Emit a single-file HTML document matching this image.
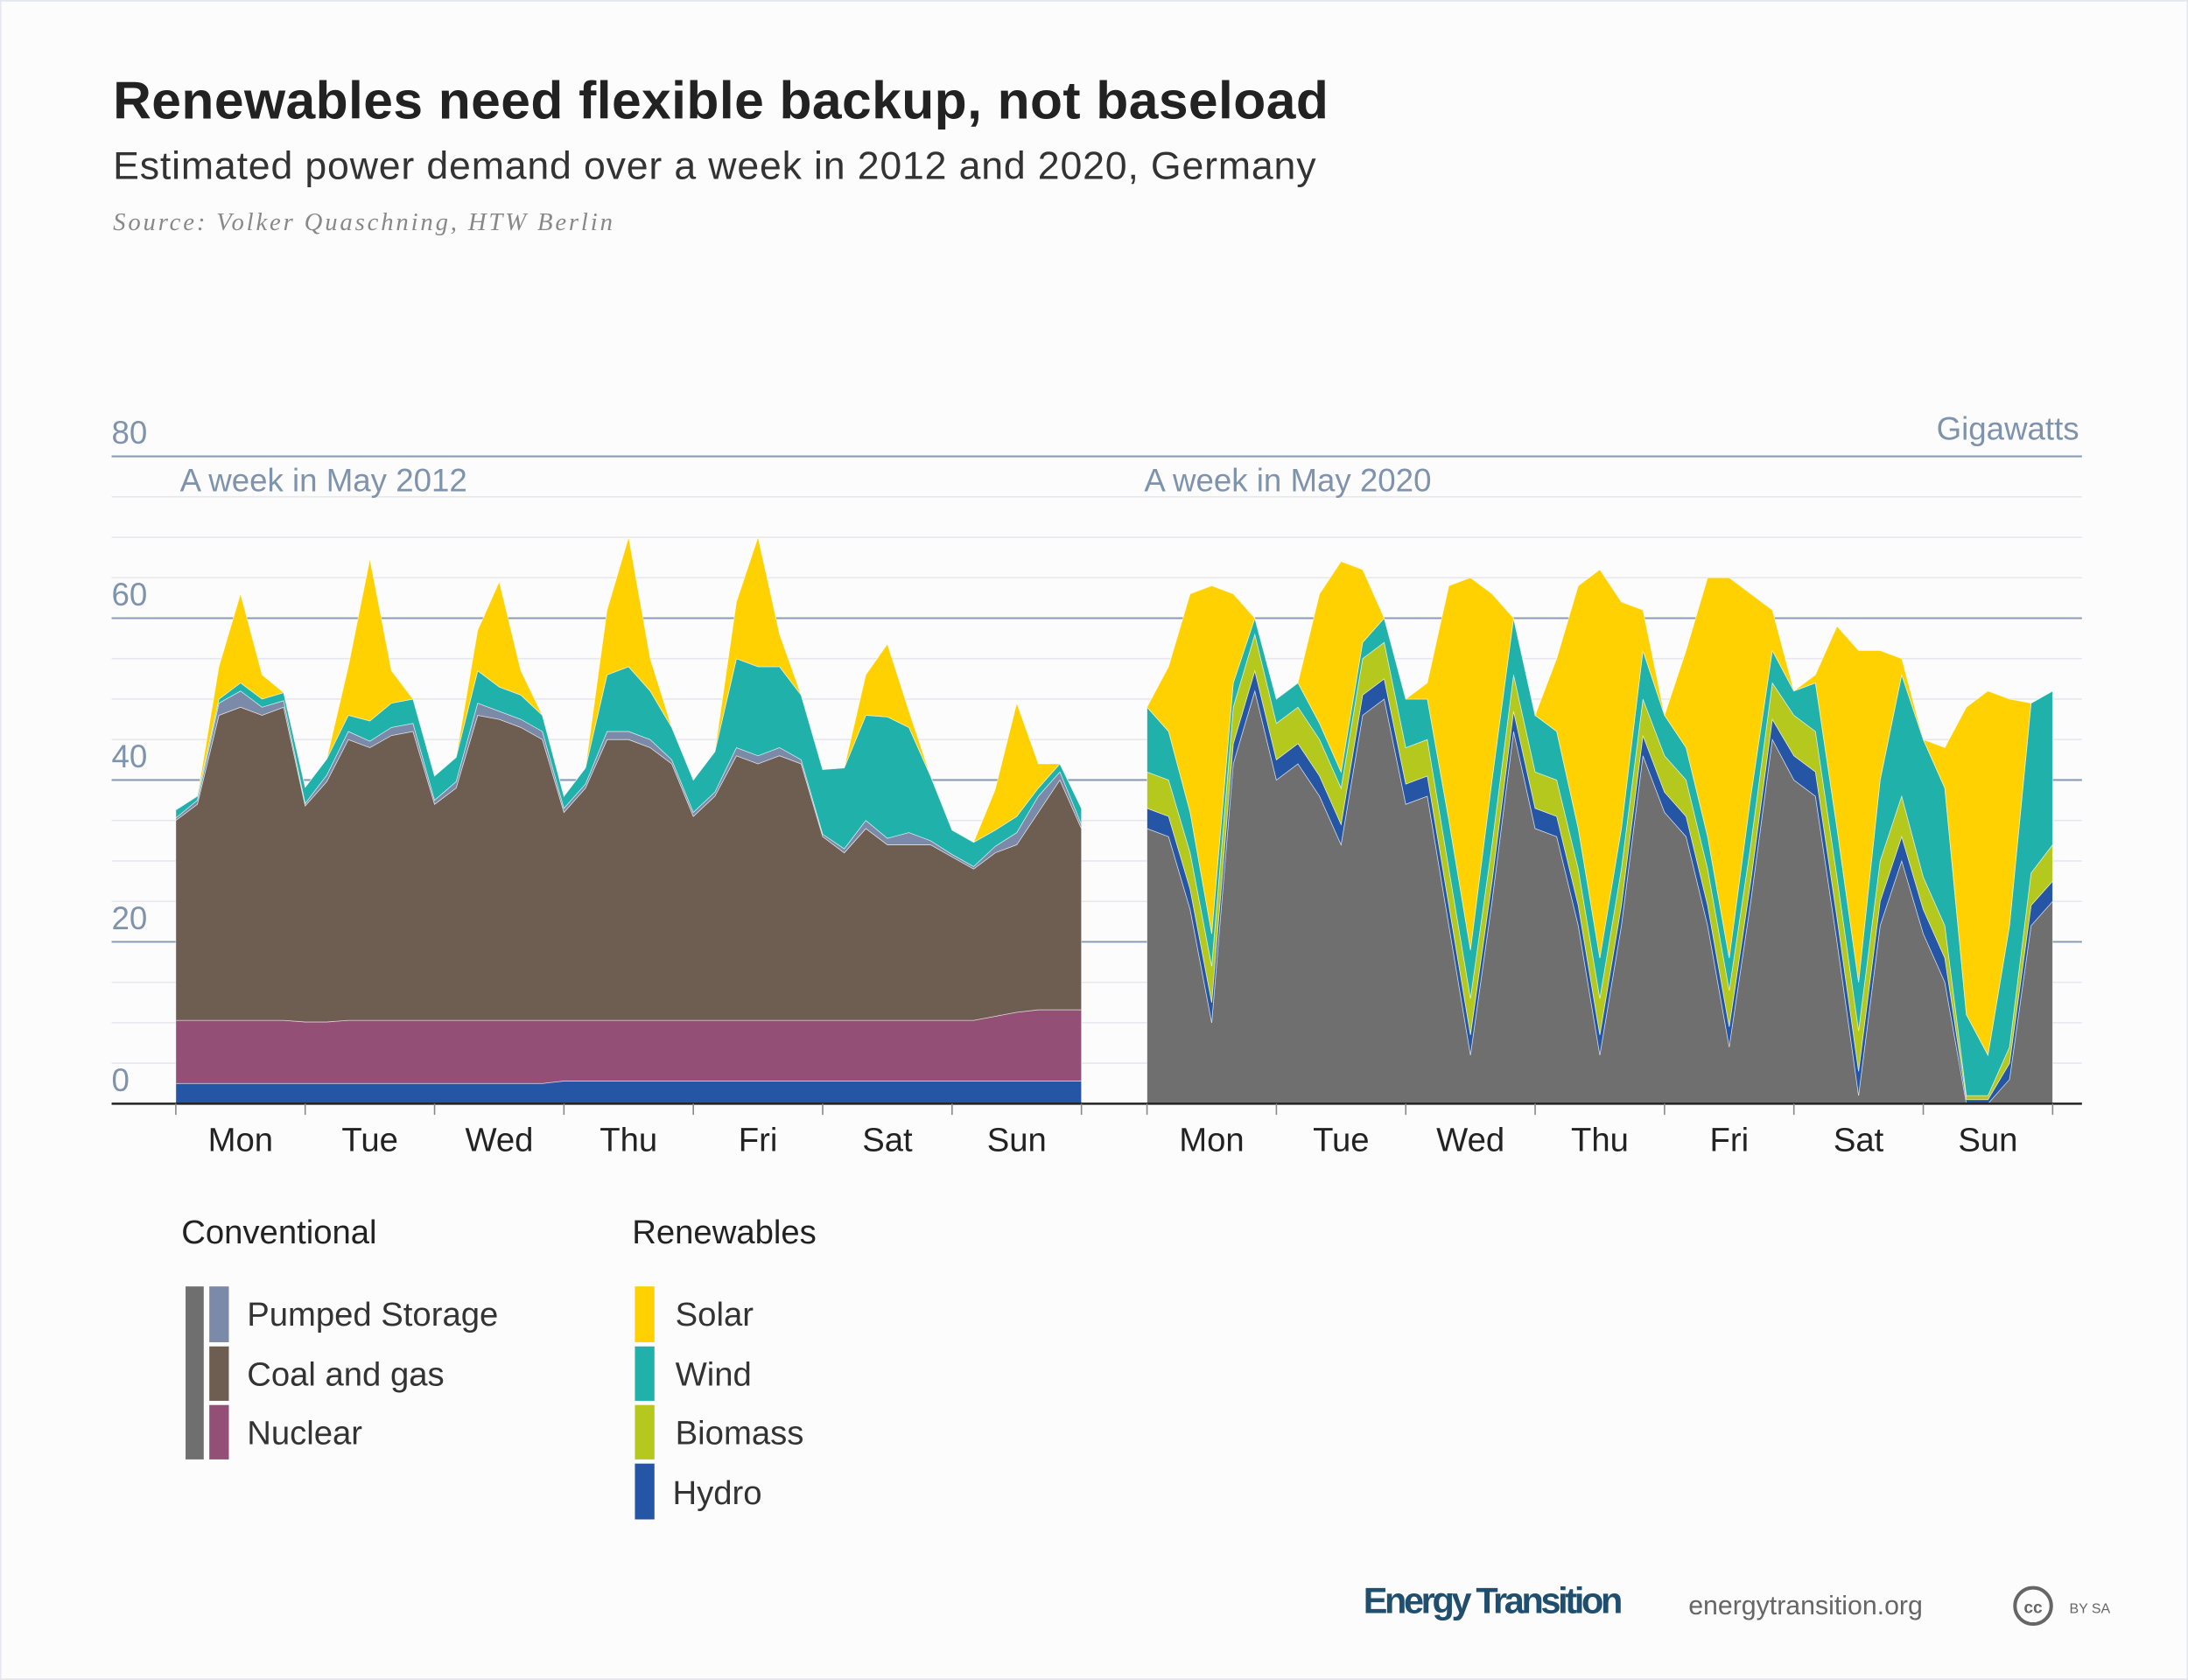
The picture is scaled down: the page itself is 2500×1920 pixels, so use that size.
<!DOCTYPE html>
<html><head><meta charset="utf-8"><style>
html,body{margin:0;padding:0;background:#fcfcfc;}
svg{display:block;}
text{font-family:"Liberation Sans","DejaVu Sans",sans-serif;}
</style></head><body>
<svg id="chart" width="2500" height="1920" viewBox="0 0 1568 1204" xmlns="http://www.w3.org/2000/svg">
<rect x="0" y="0" width="1568" height="1204" fill="#fcfcfc" stroke="#e4e8ee" stroke-width="2"/>
<text x="81" y="85" font-size="38" font-weight="bold" fill="#222" textLength="871">Renewables need flexible backup, not baseload</text>
<text x="81" y="128" font-size="28" fill="#333" textLength="862">Estimated power demand over a week in 2012 and 2020, Germany</text>
<text x="81" y="165" font-size="18" font-style="italic" fill="#888" textLength="358" style="font-family:'Liberation Serif',serif">Source: Volker Quaschning, HTW Berlin</text>
<g id="grid"></g>
<g id="areas"></g>
<g id="axes"></g>
<text x="129" y="352" font-size="23" fill="#7f93ad">A week in May 2012</text>
<text x="820" y="352" font-size="23" fill="#7f93ad">A week in May 2020</text>
<text x="1490" y="315" font-size="23" fill="#7f93ad" text-anchor="end">Gigawatts</text>

<g>
<text x="130" y="891" font-size="24" fill="#222">Conventional</text>
<text x="453" y="891" font-size="24" fill="#222">Renewables</text>
<rect x="133" y="922" width="13" height="124" fill="#6f6f6f"/>
<rect x="150" y="922" width="14" height="40" fill="#7a8aa8"/>
<rect x="150" y="965" width="14" height="39" fill="#6e5e52"/>
<rect x="150" y="1007" width="14" height="39" fill="#944f77"/>
<text x="177" y="950" font-size="24" fill="#333">Pumped Storage</text>
<text x="177" y="993" font-size="24" fill="#333">Coal and gas</text>
<text x="177" y="1035" font-size="24" fill="#333">Nuclear</text>
<rect x="455" y="922" width="14" height="40" fill="#ffd100"/>
<rect x="455" y="965" width="14" height="39" fill="#20b2aa"/>
<rect x="455" y="1007" width="14" height="39" fill="#b4c81e"/>
<rect x="455" y="1049" width="14" height="40" fill="#2556a5"/>
<text x="484" y="950" font-size="24" fill="#333">Solar</text>
<text x="484" y="993" font-size="24" fill="#333">Wind</text>
<text x="484" y="1035" font-size="24" fill="#333">Biomass</text>
<text x="482" y="1078" font-size="24" fill="#333">Hydro</text>
</g>
<text x="977" y="1156" font-size="26" font-weight="bold" fill="#1f4e6e" textLength="186">Energy Transition</text>
<text x="1210" y="1157" font-size="19" fill="#666">energytransition.org</text>
<circle cx="1457" cy="1151" r="13" fill="none" stroke="#666" stroke-width="2.5"/>
<text x="1457" y="1156" font-size="12" font-weight="bold" fill="#666" text-anchor="middle">cc</text>
<text x="1483" y="1156" font-size="10" fill="#666">BY SA</text>
</svg>
<script>
// 4-hourly points, Mon 0h .. next Mon 0h (43 points), GW
const days = ["Mon","Tue","Wed","Thu","Fri","Sat","Sun"];
const yTicks = [0,20,40,60,80];
// 2012
const hydro12 = [2.5,2.5,2.5,2.5,2.5,2.5, 2.5,2.5,2.5,2.5,2.5,2.5, 2.5,2.5,2.5,2.5,2.5,2.5, 2.8,2.8,2.8,2.8,2.8,2.8, 2.8,2.8,2.8,2.8,2.8,2.8, 2.8,2.8,2.8,2.8,2.8,2.8, 2.8,2.8,2.8,2.8,2.8,2.8, 2.8];
const nuclear12 = [7.8,7.8,7.8,7.8,7.8,7.8, 7.6,7.6,7.8,7.8,7.8,7.8, 7.8,7.8,7.8,7.8,7.8,7.8, 7.5,7.5,7.5,7.5,7.5,7.5, 7.5,7.5,7.5,7.5,7.5,7.5, 7.5,7.5,7.5,7.5,7.5,7.5, 7.5,7.5,8,8.5,8.8,8.8, 8.8];
const coal12 = [24.7,26.7,37.7,38.7,37.7,38.7, 26.7,29.7,34.7,33.7,35.2,35.7, 26.7,28.7,37.7,37.2,36.2,34.7, 25.7,28.7,34.7,34.7,33.7,31.7, 25.2,27.7,32.7,31.7,32.7,31.7, 22.7,20.7,23.7,21.7,21.7,21.7, 20.2,18.7,20.2,20.7,24.4,28.4, 22.4];
const pumped12 = [0.3,0.5,1.5,2,1,0.8, 0.3,0.8,1,0.8,1,1, 0.5,0.8,1.5,1,1,1, 0.5,0.5,1,1,1,0.5, 0.5,0.5,1,1,1,0.5, 0.3,0.5,1,0.8,1.5,0.5, 0.3,0.3,0.8,1.5,2,1, 0.5];
const wind12 = [1,0.5,0.5,1,1,1, 2,2,2,2.5,3,3, 3,3,4,3,3,2, 1.5,2,7,8,6,4, 4,5,11,11,10,8, 8,10,13,15,13,8, 3,3,2,2,1,1, 2];
const solar12 = [0,0,4,11,3,0, 0,0,6,20,4,0, 0,0,5,13,3,0, 0,0,8,16,4,0, 0,0,7,16,4,0, 0,0,5,9,2,0, 0,0,5,14,3,0, 0];
// 2020
const conv20 = [34,33,24,10,42,51, 40,42,38,32,48,50, 37,38,22,6,25,46, 34,33,22,6,22,43, 36,33,22,7,25,45, 40,38,20,1,22,30, 21,15,0,0,3,22, 25];
const hydro20 = [2.5,2.5,2.5,2.5,2.5,2.5, 2.5,2.5,2.5,2.5,2.5,2.5, 2.5,2.5,2.5,2.5,2.5,2.5, 2.5,2.5,2.5,2.5,2.5,2.5, 2.5,2.5,2.5,2.5,2.5,2.5, 3,3,3,3,3,3, 3,3,0.5,0.5,2,2.5, 2.5];
const biomass20 = [4.5,4.5,4.5,4.5,4.5,4.5, 4.5,4.5,4.5,4.5,4.5,4.5, 4.5,4.5,4.5,4.5,4.5,4.5, 4.5,4.5,4.5,4.5,4.5,4.5, 4.5,4.5,4.5,4.5,4.5,4.5, 5,5,5,5,5,5, 4,4,0.5,0.5,2,4, 4.5];
const wind20 = [8,6,5,4,3,2, 3,3,2,2,2,3, 6,5,6,6,8,7, 7,6,5,5,5,6, 5,4,4,4,6,4, 3,6,6,6,10,15, 17,17,10,5,15,21, 19];
const solar20 = [0,8,27,43,11,0, 0,0,16,26,9,0, 0,2,29,46,23,0, 0,9,30,48,28,5, 0,12,32,47,25,5, 0,1,25,41,16,2, 0,5,38,45,28,0, 0];

const NS="http://www.w3.org/2000/svg";
const svg=document.getElementById('chart');
const gGrid=document.getElementById('grid'), gAreas=document.getElementById('areas'), gAxes=document.getElementById('axes');
const Y0=791, PX_PER_GW=5.8;
function yScale(v){return Y0 - v*PX_PER_GW;}
const N=43, PW=649;
function xLeft(i){return 126 + i*PW/(N-1);}
function xRight(i){return 822 + i*PW/(N-1);}
function mk(tag,attrs,parent){const e=document.createElementNS(NS,tag);for(const k in attrs)e.setAttribute(k,attrs[k]);parent.appendChild(e);return e;}

for(let v=0; v<=80; v+=5){
  if(v===0) continue;
  const major = v%20===0;
  const ln=mk('line',{x1:80,x2:1492,y1:yScale(v),y2:yScale(v),stroke:major?'#8a9bb5':'#e6e8ee','stroke-width':major?1.3:1},gGrid);
  
  
}
yTicks.forEach(v=>{
  const t=mk('text',{x:80,y:yScale(v)-9,'font-size':23,fill:'#7f93ad'},gGrid);
  t.textContent=v;
  
  
});

function stack(series, colors, names, xf){
  const base=new Array(N).fill(0);
  series.forEach((s,k)=>{
    const top=base.map((b,i)=>b+s[i]);
    let d='M'+xf(0)+','+yScale(top[0]);
    for(let i=1;i<N;i++) d+='L'+xf(i).toFixed(2)+','+yScale(top[i]).toFixed(2);
    for(let i=N-1;i>=0;i--) d+='L'+xf(i).toFixed(2)+','+yScale(base[i]).toFixed(2);
    d+='Z';
    const p=mk('path',{d:d,fill:colors[k],stroke:'#ffffff','stroke-width':0.5,'stroke-opacity':0.6},gAreas);
    
    
    for(let i=0;i<N;i++) base[i]=top[i];
  });
}
stack([hydro12,nuclear12,coal12,pumped12,wind12,solar12],
  ['#2556a5','#944f77','#6e5e52','#7a8aa8','#20b2aa','#ffd100'],
  ['area-2012-hydro','area-2012-nuclear','area-2012-coal-gas','area-2012-pumped-storage','area-2012-wind','area-2012-solar'], xLeft);
stack([conv20,hydro20,biomass20,wind20,solar20],
  ['#6f6f6f','#2556a5','#b4c81e','#20b2aa','#ffd100'],
  ['area-2020-conventional','area-2020-hydro','area-2020-biomass','area-2020-wind','area-2020-solar'], xRight);

let ax=mk('line',{x1:80,x2:1492,y1:Y0,y2:Y0,stroke:'#222','stroke-width':1.6},gAxes);


[xLeft,xRight].forEach(xf=>{
  for(let d=0; d<=7; d++){
    const x=xf(d*6);
    const t=mk('line',{x1:x,x2:x,y1:Y0,y2:Y0+8,stroke:'#888','stroke-width':1},gAxes);
    
    
  }
  days.forEach((dn,d)=>{
    const t=mk('text',{x:xf(d*6+3),y:Y0+34,'font-size':24,fill:'#222','text-anchor':'middle'},gAxes);
    t.textContent=dn;
    
    
  });
});
</script>
</body></html>
